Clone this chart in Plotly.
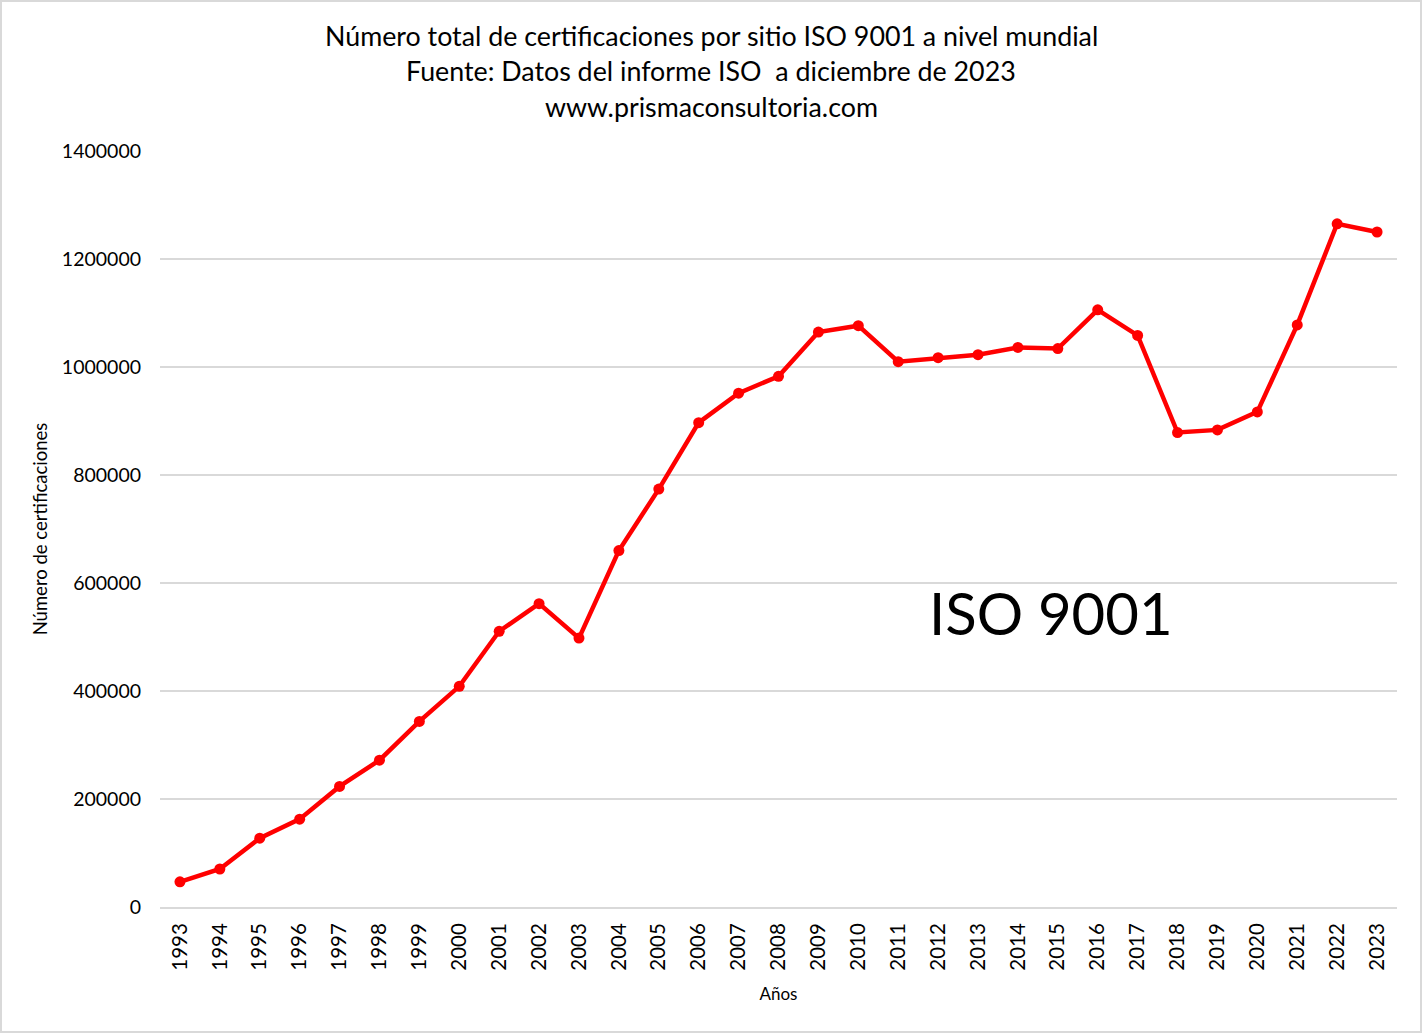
import plotly.graph_objects as go

# Certificaciones ISO 9001 por año
years = list(range(1993, 2024))
certs = [
    46571, 70364, 127349, 162701, 223299, 271847, 343643, 408631, 510616, 561747,
    497919, 660132, 773867, 896929, 951486, 982832, 1064785, 1076525, 1009845, 1017279,
    1022877, 1036321, 1034180, 1105937, 1058504, 878664, 883521, 916842, 1077884, 1265216,
    1250000,
]
title_lines = [
    "Número total de certificaciones por sitio ISO 9001 a nivel mundial",
    "Fuente: Datos del informe ISO  a diciembre de 2023",
    "www.prismaconsultoria.com",
]

FONT = "Lato, Noto Sans, sans-serif"
W, H = 1422, 1033
ML, MR, MT, MB = 160, 25, 151, 126
pw, ph = W - ML - MR, H - MT - MB


def px_to_paper_x(px):
    return (px - ML) / pw


def px_to_paper_y(py):
    return (H - MB - py) / ph


fig = go.Figure()
fig.add_trace(go.Scatter(
    x=years, y=certs, mode="lines+markers",
    line=dict(color="#ff0000", width=4.5),
    marker=dict(color="#ff0000", size=11),
    showlegend=False,
))

annotations = []
for i, txt in enumerate(title_lines):
    annotations.append(dict(
        text=txt, xref="paper", yref="paper",
        x=px_to_paper_x(711), y=px_to_paper_y(36 + i * 35.5),
        xanchor="center", yanchor="middle", showarrow=False,
        font=dict(family=FONT, size=26.8, color="#000000"),
    ))
annotations.append(dict(
    text="ISO 9001", xref="paper", yref="paper",
    x=px_to_paper_x(1051), y=px_to_paper_y(612),
    xanchor="center", yanchor="middle", showarrow=False,
    font=dict(family=FONT, size=58, color="#000000"),
))

fig.update_layout(
    width=W, height=H,
    margin=dict(l=ML, r=MR, t=MT, b=MB),
    paper_bgcolor="white", plot_bgcolor="white",
    font=dict(family=FONT, color="#000000"),
    annotations=annotations,
    shapes=[dict(
        type="rect", xref="paper", yref="paper",
        x0=px_to_paper_x(1), x1=px_to_paper_x(W - 1),
        y0=px_to_paper_y(H - 1), y1=px_to_paper_y(1),
        line=dict(color="#d9d9d9", width=2), layer="below",
    )],
)
fig.update_xaxes(
    range=[1992.5, 2023.5], tickvals=years, ticktext=[str(y) for y in years],
    tickangle=-90, tickfont=dict(size=20.5, family=FONT), ticklabelstandoff=6,
    showgrid=False, zeroline=False,
    showline=True, linecolor="#d9d9d9", linewidth=2,
    ticks="", title=dict(text="Años", font=dict(size=17, family=FONT), standoff=18),
)
fig.update_yaxes(
    range=[0, 1400000], dtick=200000, tickformat="d",
    tickfont=dict(size=19.5, family=FONT), ticklabelstandoff=18,
    showgrid=True, gridcolor="#d9d9d9", gridwidth=1.5,
    zeroline=False, showline=False, ticks="",
    title=dict(text="Número de certificaciones", font=dict(size=18.5, family=FONT), standoff=9),
)

# quitar el margen del body para que la figura ocupe toda la ventana
fig.write_html("out.html", config={"displayModeBar": False},
               post_script="document.body.style.margin='0';")
